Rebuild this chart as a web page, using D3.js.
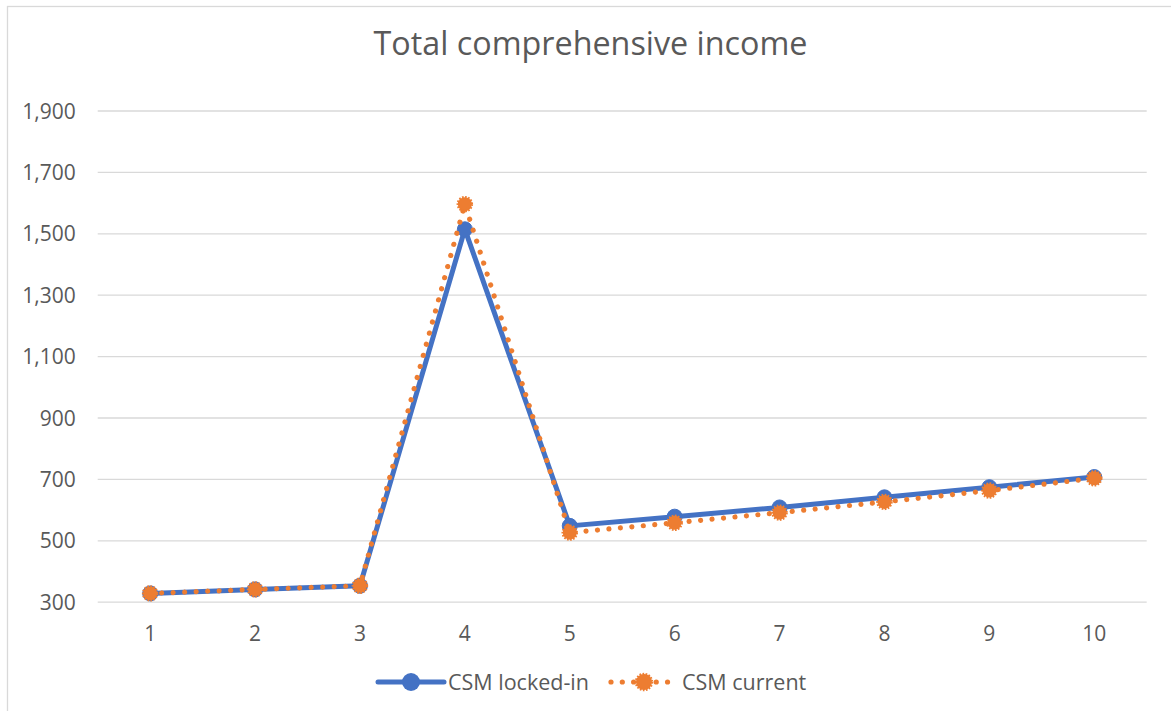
<!DOCTYPE html>
<html><head><meta charset="utf-8">
<script src="https://cdn.jsdelivr.net/npm/d3@7"></script>
<style>
html,body{margin:0;padding:0;background:#fff;}
svg{display:block;}
</style></head>
<body>
<script>
const categories = ["1","2","3","4","5","6","7","8","9","10"];
const lockedIn = [327, 340, 352, 1513, 547, 577, 607, 640, 673, 706];
const current  = [327, 340, 352, 1595, 525, 557, 590, 625, 662, 702];
const yTicks = [300, 500, 700, 900, 1100, 1300, 1500, 1700, 1900];
const seriesNames = ["CSM locked-in", "CSM current"];
const title = "Total comprehensive income";

const W = 1171, H = 711;
const FONT = "'Open Sans', 'Liberation Sans', sans-serif";
const TXT = "#595959";
const BLUE = "#4472C4", ORANGE = "#ED7D31";

const svg = d3.select("body").append("svg").attr("width", W).attr("height", H);
svg.append("rect").attr("width", W).attr("height", H).attr("fill", "#fff");
// chart border (only left and top visible)
svg.append("rect").attr("x", 7.5).attr("y", 6.5).attr("width", W + 20).attr("height", H + 20)
  .attr("fill", "none").attr("stroke", "#d9d9d9").attr("stroke-width", 1.3);

const x = d3.scaleBand().domain(categories).range([97.7, 1146.7]);
const y = d3.scaleLinear().domain([300, 1900]).range([601.7, 110.5]);

svg.append("text").attr("x", 590.5).attr("y", 55).attr("text-anchor", "middle")
  .attr("font-family", FONT).attr("font-size", 32.3).attr("fill", TXT).text(title);

// gridlines
const yAxis = d3.axisLeft(y).tickValues(yTicks).tickSize(-(1146.7 - 97.7)).tickPadding(22)
  .tickFormat(d3.format(","));
const gy = svg.append("g").attr("transform", "translate(97.7,0)").call(yAxis);
gy.select(".domain").remove();
gy.selectAll(".tick line").attr("stroke", "#d9d9d9").attr("stroke-width", 1.3);
gy.selectAll(".tick text").attr("font-family", FONT).attr("font-size", 21).attr("fill", TXT)
  .attr("dy", "0.36em");

const xAxis = d3.axisBottom(x).tickSize(0).tickPadding(24);
const gx = svg.append("g").attr("transform", "translate(0,601.7)").call(xAxis);
gx.select(".domain").remove();
gx.selectAll(".tick text").attr("font-family", FONT).attr("font-size", 21).attr("fill", TXT);

const cx = d => x(d) + x.bandwidth() / 2;
const line = d3.line().x((d, i) => cx(categories[i])).y(d => y(d));

// locked-in series
svg.append("path").datum(lockedIn).attr("d", line).attr("fill", "none")
  .attr("stroke", BLUE).attr("stroke-width", 5).attr("stroke-linejoin", "round");
svg.append("g").selectAll("circle").data(lockedIn).join("circle")
  .attr("cx", (d, i) => cx(categories[i])).attr("cy", d => y(d)).attr("r", 7.5)
  .attr("fill", BLUE).attr("stroke", BLUE).attr("stroke-width", 1);

// current series
svg.append("path").datum(current).attr("d", line).attr("fill", "none")
  .attr("stroke", ORANGE).attr("stroke-width", 5.2).attr("stroke-linecap", "round")
  .attr("stroke-dasharray", "0.01 11.5");
svg.append("g").selectAll("circle").data(current).join("circle")
  .attr("cx", (d, i) => cx(categories[i])).attr("cy", d => y(d)).attr("r", 7)
  .attr("fill", ORANGE).attr("stroke", ORANGE).attr("stroke-width", 2.5)
  .attr("stroke-dasharray", "1.6 1.4");

// legend
const ly = 682;
const lg = svg.append("g");
lg.append("line").attr("x1", 378).attr("x2", 444).attr("y1", ly).attr("y2", ly)
  .attr("stroke", BLUE).attr("stroke-width", 5).attr("stroke-linecap", "round");
lg.append("circle").attr("cx", 411).attr("cy", ly).attr("r", 9).attr("fill", BLUE);
lg.append("text").attr("x", 448).attr("y", ly).attr("dy", "0.36em").attr("font-family", FONT)
  .attr("font-size", 21.5).attr("fill", TXT).text(seriesNames[0]);
lg.append("line").attr("x1", 611).attr("x2", 677).attr("y1", ly).attr("y2", ly)
  .attr("stroke", ORANGE).attr("stroke-width", 5.2).attr("stroke-linecap", "round")
  .attr("stroke-dasharray", "0.01 11.3");
lg.append("circle").attr("cx", 644).attr("cy", ly).attr("r", 8).attr("fill", ORANGE)
  .attr("stroke", ORANGE).attr("stroke-width", 2.5).attr("stroke-dasharray", "1.6 1.4");
lg.append("text").attr("x", 682).attr("y", ly).attr("dy", "0.36em").attr("font-family", FONT)
  .attr("font-size", 21.5).attr("fill", TXT).text(seriesNames[1]);
</script>
</body></html>
